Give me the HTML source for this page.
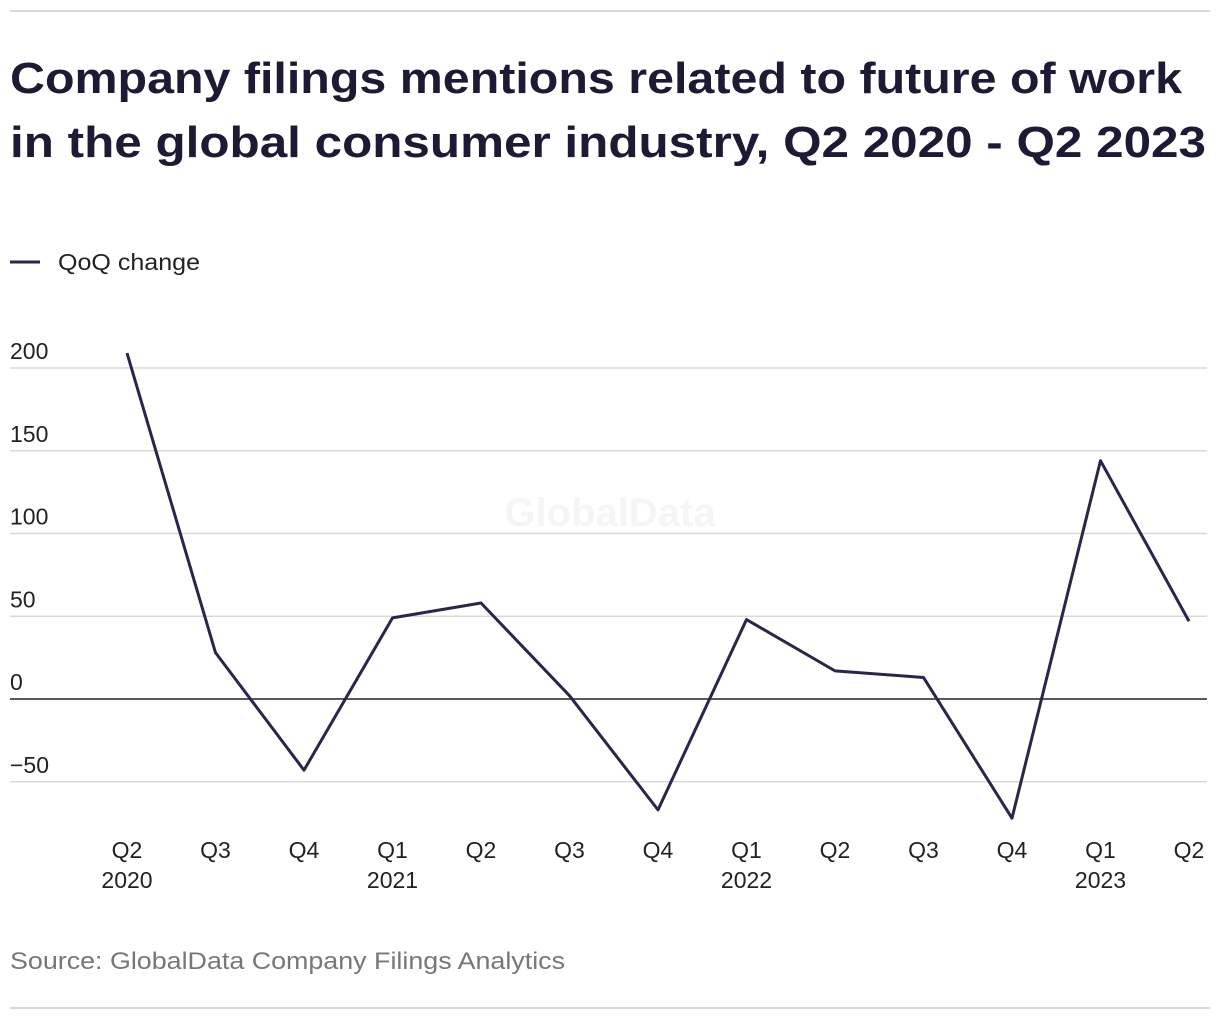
<!DOCTYPE html>
<html><head><meta charset="utf-8"><style>
body{margin:0;background:#fff;width:1220px;height:1020px;overflow:hidden;font-family:"Liberation Sans",sans-serif;}
</style></head><body>
<svg width="1220" height="1020" xmlns="http://www.w3.org/2000/svg">
<line x1="10" y1="11" x2="1210" y2="11" stroke="#d8d8d8" stroke-width="2"/>
<text x="10" y="93" font-size="44" font-weight="bold" fill="#1c1b33" textLength="1172" lengthAdjust="spacingAndGlyphs">Company filings mentions related to future of work</text>
<text x="10" y="157" font-size="44" font-weight="bold" fill="#1c1b33" textLength="1196" lengthAdjust="spacingAndGlyphs">in the global consumer industry, Q2 2020 - Q2 2023</text>
<line x1="10" y1="262" x2="40" y2="262" stroke="#27274a" stroke-width="3"/>
<text x="58" y="270" font-size="23" fill="#222" textLength="142" lengthAdjust="spacingAndGlyphs">QoQ change</text>
<text x="610" y="526" font-size="40" font-weight="bold" fill="#f5f5f5" text-anchor="middle">GlobalData</text>
<g id="grid"></g><g id="xt"></g>
<path id="line" fill="none" stroke="#27274a" stroke-width="3" stroke-linejoin="round"/>
<text x="10" y="969" font-size="24" fill="#777" textLength="555" lengthAdjust="spacingAndGlyphs">Source: GlobalData Company Filings Analytics</text>
<line x1="10" y1="1008" x2="1210" y2="1008" stroke="#d8d8d8" stroke-width="2"/>
</svg>
<script>
const quarters=["Q2","Q3","Q4","Q1","Q2","Q3","Q4","Q1","Q2","Q3","Q4","Q1","Q2"];
const years=["2020","","","2021","","","","2022","","","","2023",""];
const values=[209,28,-43,49,58,2,-67,48,17,13,-72,144,47];
const yTicks=[200,150,100,50,0,-50];
const NS="http://www.w3.org/2000/svg";
const x=i=>127+i*(1189-127)/(quarters.length-1);
const y=v=>699-v*(699-368)/200;
const grid=document.getElementById('grid');
yTicks.forEach(t=>{
 const l=document.createElementNS(NS,'line');
 l.setAttribute('x1',10);l.setAttribute('x2',1207);l.setAttribute('y1',y(t));l.setAttribute('y2',y(t));
 l.setAttribute('stroke',t===0?'#222':'#d8d8d8');l.setAttribute('stroke-width',1.5);
 
 
 grid.appendChild(l);
 const tx=document.createElementNS(NS,'text');
 tx.setAttribute('x',10);tx.setAttribute('y',y(t)-9);tx.setAttribute('font-size',23);tx.setAttribute('fill','#222');
 tx.textContent=t<0?'\u2212'+Math.abs(t):String(t);
 
 
 grid.appendChild(tx);
});
const xt=document.getElementById('xt');
quarters.forEach((q,i)=>{
 [[q,858],[years[i],888]].forEach(([s,yy])=>{
  if(!s)return;
  const tx=document.createElementNS(NS,'text');
  tx.setAttribute('x',x(i));tx.setAttribute('y',yy);tx.setAttribute('font-size',23);tx.setAttribute('fill','#222');tx.setAttribute('text-anchor','middle');
  tx.textContent=s;
  
  
  xt.appendChild(tx);
 });
});
document.getElementById('line').setAttribute('d',values.map((v,i)=>(i?'L':'M')+x(i)+','+y(v)).join(''));
</script>
</body></html>
